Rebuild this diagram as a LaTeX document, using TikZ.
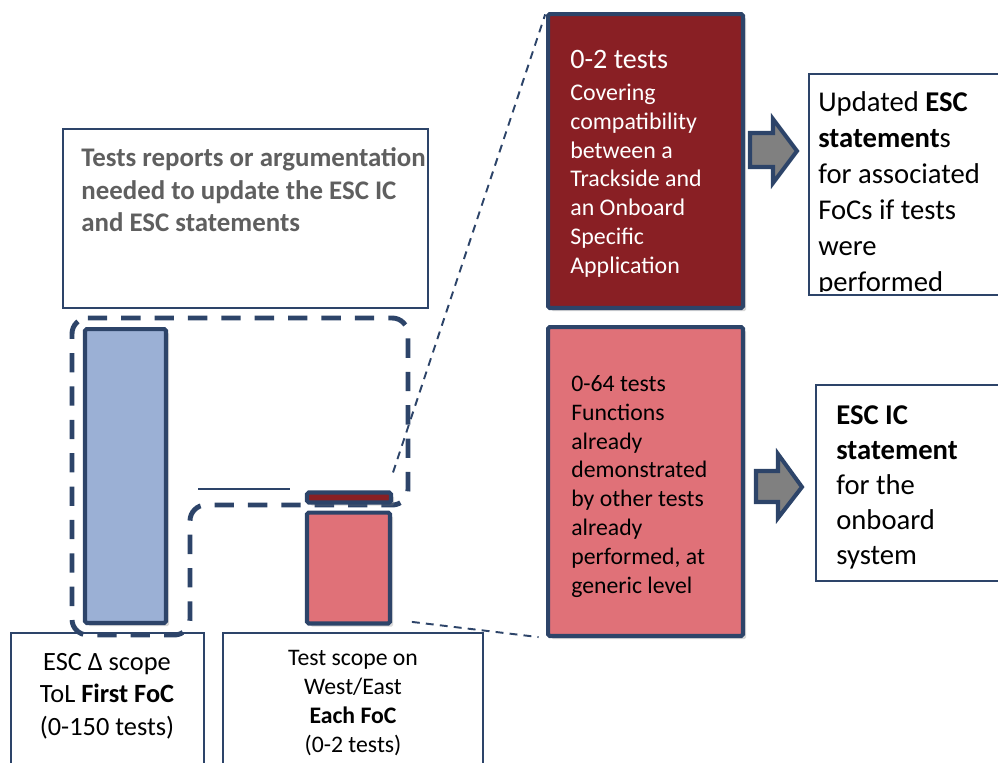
\documentclass[tikz,border=0pt]{standalone}
\usepackage{fontspec}
\setmainfont{Carlito}
\usetikzlibrary{shadows}

\definecolor{navyline}{RGB}{45,68,105}
\definecolor{tolblue}{RGB}{155,176,213}
\definecolor{wespink}{RGB}{224,113,120}
\definecolor{compred}{RGB}{137,31,36}
\definecolor{arrowgray}{RGB}{128,128,128}
\definecolor{reqgray}{RGB}{95,95,95}

\begin{document}
\begin{tikzpicture}[
    x=0.02cm, y=-0.02cm,
    % Common Styles
    thin_box/.style={
        draw=navyline,
        line width=1.1pt,
        inner sep=0pt
    },
    bar_box/.style={
        draw=navyline,
        line width=2.3pt,
        inner sep=0pt,
        rounded corners=1pt,
        drop shadow={shadow xshift=1.8pt, shadow yshift=-1.8pt, opacity=0.3}
    },
    scope_line/.style={
        navyline,
        line width=2.8pt,
        dash pattern=on 11pt off 8pt,
        rounded corners=9pt
    },
    zoom_line/.style={
        navyline,
        line width=1.1pt,
        dash pattern=on 4.5pt off 3.5pt
    },
    block_arrow/.style={
        draw=navyline,
        fill=arrowgray,
        line width=2.3pt,
        line join=miter
    },
    box_text/.style={
        inner sep=0pt,
        align=left,
        anchor=north west
    },
    foot_text/.style={
        inner sep=0pt,
        align=center,
        anchor=north
    }
]

    \path[use as bounding box] (0,0) rectangle (998,762);
    \clip (0,0) rectangle (998,762);

    % ================= REQUIREMENT NOTE =================
    \node[thin_box, minimum width=7.30cm, minimum height=3.58cm] (reqbox) at (245.5,218.5) {};
    \node[box_text, text=reqgray, font=\fontsize{15.3}{18.7}\selectfont\bfseries] (reqlabel) at (81,147)
        {Tests reports or argumentation\\ needed to update the ESC IC\\ and ESC statements};

    % ================= SCOPE BARS =================
    % Dashed outline round both bars
    \draw[scope_line] (72,318) -- (408,318) -- (408,505) -- (190,505) -- (190,635) -- (72,635) -- cycle;

    % Thin marker line
    \draw[navyline, line width=1.1pt] (198,489) -- (290,489);

    \node[bar_box, fill=tolblue, minimum width=1.62cm, minimum height=5.88cm] (tolbar) at (125.5,476) {};
    \node[bar_box, fill=compred, minimum width=1.68cm, minimum height=0.20cm] (capbar) at (349,497.5) {};
    \node[bar_box, fill=wespink, minimum width=1.66cm, minimum height=2.22cm] (wescbox) at (348.5,568) {};

    % Captions under the bars
    \node[thin_box, minimum width=3.86cm, minimum height=3.34cm] (tolbox) at (107.5,716.5) {};
    \node[foot_text, font=\fontsize{15}{18.4}\selectfont] (tollabel) at (107,653)
        {ESC Δ scope\\ ToL \textbf{First FoC}\\ (0-150 tests)};

    \node[thin_box, minimum width=5.20cm, minimum height=3.34cm] (wesbox) at (353,716.5) {};
    \node[foot_text, font=\fontsize{13.5}{16.4}\selectfont] (weslabel) at (353,650)
        {Test scope on\\ West/East\\ \textbf{Each FoC}\\ (0-2 tests)};

    % ================= DETAIL BOXES =================
    \node[bar_box, fill=compred, minimum width=3.90cm, minimum height=5.88cm] (compbox) at (645.5,161) {};
    \node[box_text, text=white, font=\fontsize{13.6}{16.4}\selectfont] (complabel) at (570,50)
        {{\fontsize{16}{19}\selectfont 0-2 tests}\\[1.7pt] Covering\\ compatibility\\ between a\\ Trackside and\\ an Onboard\\ Specific\\ Application};

    \node[bar_box, fill=wespink, minimum width=3.90cm, minimum height=6.18cm] (funcbox) at (645.5,481.5) {};
    \node[box_text, font=\fontsize{13.5}{16.4}\selectfont] (funclabel) at (571,375)
        {0-64 tests\\ Functions\\ already\\ demonstrated\\ by other tests\\ already\\ performed, at\\ generic level};

    % Zoom lines
    \draw[zoom_line, shorten <=0.38cm, shorten >=0.05cm] ([xshift=-0.12cm]capbar.north east) -- (compbox.north west);
    \draw[zoom_line, shorten <=0.40cm, shorten >=0.15cm] ([yshift=0.12cm]wescbox.south east) -- (funcbox.south west);

    % ================= OUTCOMES =================
    \draw[block_arrow] (750,133) -- (773,133) -- (773,119) -- (797,151) -- (773,183) -- (773,167) -- (750,167) -- cycle;
    \draw[block_arrow] (756,471) -- (778,471) -- (778,454) -- (802,487) -- (778,518) -- (778,502) -- (756,502) -- cycle;

    \node[thin_box, minimum width=4.22cm, minimum height=4.42cm] (updbox) at (914.5,184.5) {};
    \begin{scope}
        \clip (809,74) rectangle (1000,291);
        \node[box_text, font=\fontsize{16.3}{20.5}\selectfont] (updlabel) at (818,91)
            {Updated \textbf{ESC}\\ \textbf{statement}s\\ for associated\\ FoCs if tests\\ were\\ performed};
    \end{scope}

    \node[thin_box, minimum width=4.08cm, minimum height=3.92cm] (icbox) at (918,483) {};
    \node[box_text, font=\fontsize{16.3}{20}\selectfont] (iclabel) at (836,405)
        {\textbf{ESC IC}\\ \textbf{statement}\\ for the\\ onboard\\ system};

\end{tikzpicture}
\end{document}
